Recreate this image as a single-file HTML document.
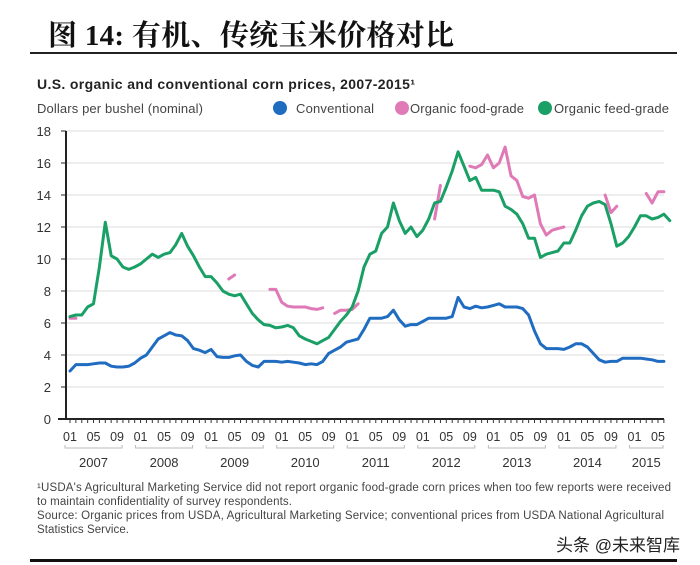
<!DOCTYPE html>
<html><head><meta charset="utf-8"><style>
html,body{margin:0;padding:0;background:#fff;}
svg{display:block;font-family:"Liberation Sans",Arial,sans-serif;}
</style></head><body>
<svg id="chart" width="700" height="565" viewBox="0 0 700 565">
<text x="48" y="45" font-family="'Liberation Serif','Noto Serif CJK SC',serif" font-weight="bold" font-size="29" fill="#111" textLength="406">图  14:  有机、传统玉米价格对比</text>
<rect x="30" y="52" width="647" height="2" fill="#222"/>
<text x="37" y="89" font-size="14" font-weight="bold" fill="#222" textLength="378">U.S. organic and conventional corn prices, 2007-2015¹</text>
<text x="37" y="113" font-size="13" fill="#444" textLength="166">Dollars per bushel (nominal)</text>
<g>
<g><circle cx="280" cy="108" r="7" fill="#1f6cc0"/><text x="296" y="113" font-size="13" fill="#444" textLength="78">Conventional</text></g>
<g><circle cx="402" cy="108" r="7" fill="#e07ab7"/><text x="410" y="113" font-size="13" fill="#444" textLength="114">Organic food-grade</text></g>
<g><circle cx="545" cy="108" r="7" fill="#1aa066"/><text x="554" y="113" font-size="13" fill="#444" textLength="115">Organic feed-grade</text></g>
</g>
<g id="grid"></g><g id="axes"></g><g id="series"></g>
<g font-size="11.5" fill="#444">
<text x="37" y="491" textLength="634">¹USDA's Agricultural Marketing Service did not report organic food-grade corn prices when too few reports were received</text>
<text x="37" y="505" textLength="255">to maintain confidentiality of survey respondents.</text>
<text x="37" y="519" textLength="627">Source: Organic prices from USDA, Agricultural Marketing Service; conventional prices from USDA National Agricultural</text>
<text x="37" y="533" textLength="92">Statistics Service.</text>
</g>
<text x="556" y="551" font-family="'Liberation Sans','Noto Sans CJK SC',sans-serif" font-size="17" fill="#222">头条 @未来智库</text>
<rect x="30" y="559" width="647" height="3" fill="#111"/>
</svg>
<script>
const yTicks = [0,2,4,6,8,10,12,14,16,18];
const monthLabels = ["01","05","09"];
const years = ["2007","2008","2009","2010","2011","2012","2013","2014","2015"];
const conventional = [3.0,3.4,3.4,3.4,3.45,3.5,3.5,3.3,3.25,3.25,3.3,3.5,
3.8,4.0,4.5,5.0,5.2,5.4,5.25,5.2,4.9,4.4,4.3,4.15,
4.35,3.9,3.85,3.85,3.95,4.0,3.6,3.35,3.25,3.6,3.6,3.6,
3.55,3.6,3.55,3.5,3.4,3.45,3.4,3.6,4.1,4.3,4.5,4.8,
4.9,5.0,5.6,6.3,6.3,6.3,6.4,6.8,6.2,5.8,5.9,5.9,
6.1,6.3,6.3,6.3,6.3,6.4,7.6,7.0,6.9,7.05,6.95,7.0,
7.1,7.2,7.0,7.0,7.0,6.9,6.5,5.5,4.7,4.4,4.4,4.4,
4.35,4.5,4.7,4.7,4.5,4.1,3.7,3.55,3.6,3.6,3.8,3.8,
3.8,3.8,3.75,3.7,3.6,3.6];
const feedGrade = [6.4,6.5,6.5,7.0,7.2,9.5,12.3,10.2,10.0,9.5,9.35,9.5,
9.7,10.0,10.3,10.1,10.3,10.4,10.9,11.6,10.8,10.2,9.5,8.9,
8.9,8.5,8.0,7.8,7.7,7.8,7.2,6.6,6.2,5.9,5.85,5.7,
5.75,5.85,5.7,5.2,5.0,4.85,4.7,4.9,5.1,5.6,6.1,6.5,
7.0,8.0,9.5,10.3,10.5,11.6,12.0,13.5,12.4,11.6,12.0,11.4,
11.8,12.5,13.5,13.6,14.5,15.5,16.7,15.8,14.9,15.1,14.3,14.3,
14.3,14.2,13.3,13.1,12.8,12.2,11.3,11.3,10.1,10.3,10.4,10.5,
11.0,11.0,11.8,12.7,13.3,13.5,13.6,13.4,12.2,10.8,11.0,11.4,
12.0,12.7,12.7,12.5,12.6,12.8,12.4];
const foodGrade = [6.3,6.3,null,null,null,null,null,null,null,null,null,null,
null,null,null,null,null,null,null,null,null,null,null,null,
null,null,null,8.75,9.0,null,null,null,null,null,8.1,8.1,
7.3,7.05,7.0,7.0,7.0,6.9,6.85,6.95,null,6.6,6.8,6.8,
6.85,7.2,null,null,null,null,null,null,null,null,null,null,
null,null,12.5,14.6,null,null,null,null,15.8,15.7,15.9,16.5,
15.7,16.0,17.0,15.2,14.9,13.9,13.8,14.0,12.2,11.5,11.8,11.9,
12.0,null,null,null,null,null,null,14.0,12.9,13.3,null,null,
null,null,14.1,13.5,14.2,14.2];

const NS="http://www.w3.org/2000/svg";
const X0=70, DX=5.88, Y0=419, PY=16;
function xs(m){return X0+m*DX;}
function ys(v){return Y0-v*PY;}
function mk(tag,attrs,parent){const e=document.createElementNS(NS,tag);for(const k in attrs)e.setAttribute(k,attrs[k]);parent.appendChild(e);return e;}
const grid=document.getElementById('grid'), axes=document.getElementById('axes'), ser=document.getElementById('series');

yTicks.forEach(v=>{
  if(v>0){const g=mk('line',{x1:66,x2:664,y1:ys(v),y2:ys(v),stroke:'#dcdcdc','stroke-width':1},grid);
  
  }
  const t=mk('text',{x:51,y:ys(v)+5,'text-anchor':'end','font-size':13,fill:'#333'},axes);
  t.textContent=v;
  
  
  const tk=mk('line',{x1:61,x2:66,y1:ys(v),y2:ys(v),stroke:'#222','stroke-width':1},axes);
  
  
});
const ya=mk('line',{x1:66,x2:66,y1:ys(18),y2:Y0+1,stroke:'#222','stroke-width':2},axes);


const xa=mk('line',{x1:58,x2:664,y1:Y0,y2:Y0,stroke:'#222','stroke-width':2},axes);


for(let m=0;m<conventional.length+0;m++){
  const t=mk('line',{x1:xs(m),x2:xs(m),y1:Y0,y2:Y0+4,stroke:'#333','stroke-width':1},axes);
  
  
}
years.forEach((yr,i)=>{
  const ms=[0,4,8].filter(o=>12*i+o<conventional.length);
  ms.forEach((o,j)=>{
    const t=mk('text',{x:xs(12*i+o),y:441,'text-anchor':'middle','font-size':12.5,fill:'#333'},axes);
    t.textContent=monthLabels[j];
    
    
  });
  const a=xs(12*i+ms[0])-5, b=xs(12*i+ms[ms.length-1])+5;
  const br=mk('path',{d:`M${a},445 V448 H${b} V445`,fill:'none',stroke:'#bbb','stroke-width':1},axes);
  
  
  const yt=mk('text',{x:(a+b)/2,y:467,'text-anchor':'middle','font-size':13,fill:'#333'},axes);
  yt.textContent=yr;
  
  
});
function draw(arr,color,name){
  let d='',pen=false;
  arr.forEach((v,m)=>{
    if(v==null){pen=false;return;}
    d+=(pen?'L':'M')+xs(m).toFixed(1)+','+ys(v).toFixed(1)+' ';pen=true;
  });
  const p=mk('path',{d:d,fill:'none',stroke:color,'stroke-width':3,'stroke-linejoin':'round','stroke-linecap':'round'},ser);
  
  
}
draw(conventional,'#1f6cc0','conventional-line');
draw(foodGrade,'#e07ab7','food-grade-line');
draw(feedGrade,'#1aa066','feed-grade-line');
</script>
</body></html>
